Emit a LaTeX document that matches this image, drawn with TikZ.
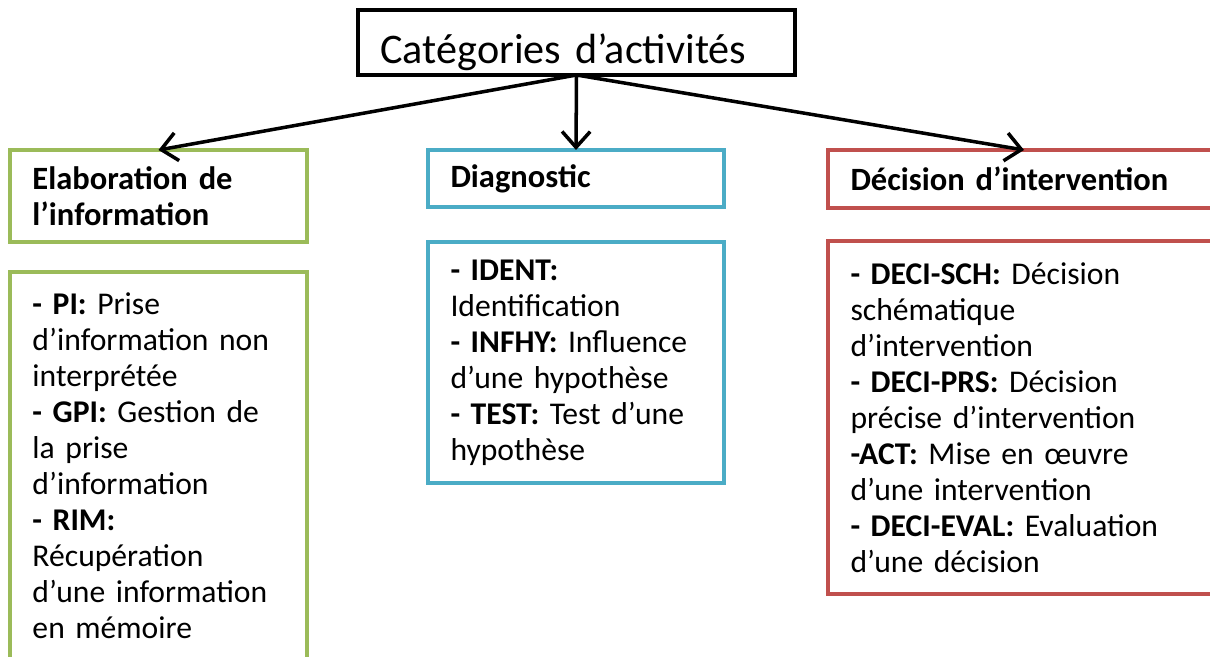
\documentclass[tikz,border=0pt]{standalone}
\usepackage{fontspec}
\setmainfont{Carlito}
\usetikzlibrary{positioning,arrows.meta}
\definecolor{elabgreen}{HTML}{9BBB59}
\definecolor{diagblue}{HTML}{4BACC6}
\definecolor{decired}{HTML}{C0504D}
\tikzset{
  catbox/.style={rectangle,draw,line width=2.3pt,outer sep=0pt,inner xsep=0.45cm,inner ysep=0.1cm,align=left},
  headbox/.style={catbox,font=\fontsize{18.5}{20.5}\selectfont\bfseries},
  listbox/.style={catbox,font=\fontsize{18}{20.5}\selectfont}
}
\begin{document}
\begin{tikzpicture}[>={Straight Barb[length=9pt,width=16pt]},line width=2pt]
    \useasboundingbox (0,0) rectangle (24.2,-13.14);
    \clip (0,0) rectangle (24.2,-13.14);
    % title
    \node[catbox,minimum height=1.3cm,text width=7.84cm,text height=0.86cm,text depth=0pt,
      font=\fontsize{24}{29}\selectfont] (cat) at (11.53,-0.85) {Catégories d’activités};
    % categories
    \node[headbox,draw=elabgreen,minimum height=1.84cm,text width=5.04cm,anchor=north west] (elab) at (0.2,-3.0) {Elaboration de\\ l’information};
    \node[headbox,draw=diagblue,minimum height=1.14cm,text width=5.02cm,right=2.42cm of elab.north east,anchor=north west] (diag) {Diagnostic};
    \node[headbox,draw=decired,minimum height=1.16cm,text width=6.94cm,right=2.08cm of diag.north east,anchor=north west] (deci) {Décision d’intervention};
    % lists
    \node[listbox,draw=elabgreen,minimum height=7.76cm,text width=5.04cm,below=0.6cm of elab.south west,anchor=north west] (elablist)
      {\textbf{- PI:} Prise\\ d’information non\\ interprétée\\ \textbf{- GPI:} Gestion de\\ la prise\\ d’information\\ \textbf{- RIM:}\\ Récupération\\ d’une information\\ en mémoire};
    \node[listbox,draw=diagblue,minimum height=4.82cm,text width=5.02cm,below=0.7cm of diag.south west,anchor=north west] (diaglist)
      {\textbf{- IDENT:}\\ Identification\\ \textbf{- INFHY:} Influence\\ d’une hypothèse\\ \textbf{- TEST:} Test d’une\\ hypothèse};
    \node[listbox,draw=decired,minimum height=7.06cm,text width=6.94cm,below=0.66cm of deci.south west,anchor=north west] (decilist)
      {\textbf{- DECI-SCH:} Décision\\ schématique\\ d’intervention\\ \textbf{- DECI-PRS:} Décision\\ précise d’intervention\\ \textbf{-ACT:} Mise en œuvre\\ d’une intervention\\ \textbf{- DECI-EVAL:} Evaluation\\ d’une décision};
    % arrows
    \draw[->] (cat.south) -- (elab.north);
    \draw[->] (cat.south) -- (diag.north);
    \draw[->] (cat.south) -- (deci.north);
\end{tikzpicture}
\end{document}
